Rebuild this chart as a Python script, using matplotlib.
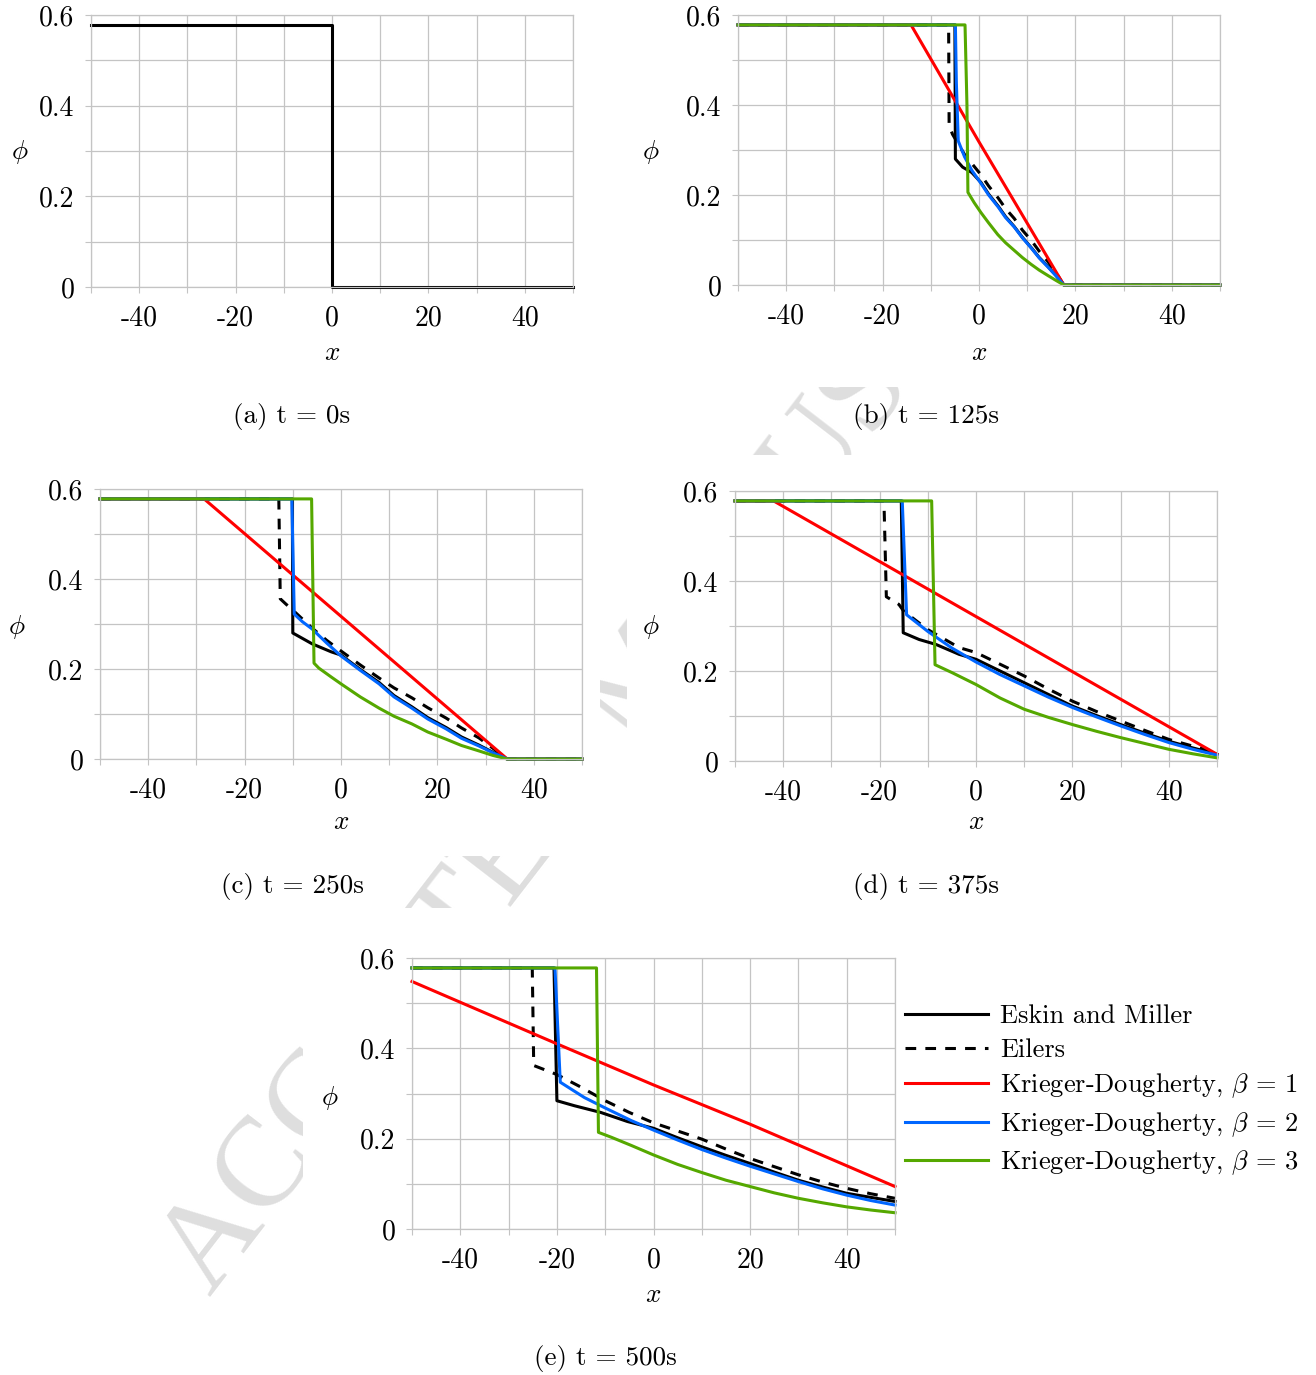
import matplotlib
matplotlib.use("Agg")
import matplotlib.pyplot as plt
from matplotlib.patches import Rectangle

plt.rcParams['font.family'] = 'cmr10'
plt.rcParams['mathtext.fontset'] = 'cm'
plt.rcParams['axes.unicode_minus'] = False

W, H = 1316, 1375

# series names and colours
labels = ['Eskin and Miller', 'Eilers', r'Krieger-Dougherty, $\beta$ = 1',
          r'Krieger-Dougherty, $\beta$ = 2', r'Krieger-Dougherty, $\beta$ = 3']
colors = ['black', 'black', '#ff0000', '#0066ff', '#55a800']
styles = ['-', '--', '-', '-', '-']

# t = 0s (initial step)
x_a = [-50, 0, 0, 50]
phi_a = [0.578, 0.578, 0.0, 0.0]

# t = 125s
x_b_eskin = [-50, -5.0, -4.9, -3.4, -1.5, 0.4, 2.0, 4.0, 5.5, 7.3, 9.0, 11.0, 12.5, 14.3, 16.0, 17.6, 50]
phi_b_eskin = [0.578, 0.578, 0.28, 0.262, 0.25, 0.228, 0.202, 0.175, 0.152, 0.13, 0.106, 0.081, 0.061, 0.041, 0.021, 0.0, 0.0]
x_b_eilers = [-50, -6.3, -6.2, -5.5, -3.0, 0.4, 2.0, 4.0, 5.5, 7.3, 9.0, 11.0, 12.5, 14.3, 16.0, 17.6, 50]
phi_b_eilers = [0.578, 0.578, 0.355, 0.335, 0.29, 0.245, 0.22, 0.193, 0.17, 0.148, 0.122, 0.097, 0.075, 0.052, 0.027, 0.0, 0.0]
x_b_kd1 = [-50, -14.1, 0.0, 17.6, 50]
phi_b_kd1 = [0.578, 0.578, 0.318, 0.0, 0.0]
x_b_kd2 = [-50, -4.9, -4.7, -4.3, -3.0, -1.5, 0.4, 2.0, 4.0, 5.5, 7.3, 9.0, 11.0, 12.5, 14.3, 16.0, 17.6, 50]
phi_b_kd2 = [0.578, 0.578, 0.45, 0.32, 0.285, 0.255, 0.226, 0.2, 0.173, 0.15, 0.129, 0.105, 0.08, 0.06, 0.04, 0.02, 0.0, 0.0]
x_b_kd3 = [-50, -2.9, -2.5, -2.3, -1.0, 0.4, 2.0, 3.9, 5.5, 7.3, 9.0, 10.8, 12.5, 14.3, 16.0, 17.6, 50]
phi_b_kd3 = [0.578, 0.578, 0.4, 0.206, 0.183, 0.161, 0.138, 0.112, 0.094, 0.077, 0.061, 0.046, 0.033, 0.021, 0.01, 0.0, 0.0]

# t = 250s
x_c_eskin = [-50, -10.1, -10.0, -6.0, -2.0, 0.0, 4.0, 7.9, 11.0, 14.7, 18.0, 21.8, 25.0, 28.6, 31.5, 34.5, 50]
phi_c_eskin = [0.578, 0.578, 0.28, 0.256, 0.238, 0.231, 0.199, 0.17, 0.141, 0.116, 0.092, 0.07, 0.049, 0.031, 0.015, 0.0, 0.0]
x_c_eilers = [-50, -12.9, -12.6, -11.4, -9.4, -6.0, -3.0, 0.0, 4.0, 7.9, 11.0, 14.7, 18.0, 21.8, 25.0, 28.6, 31.5, 34.5, 50]
phi_c_eilers = [0.578, 0.578, 0.356, 0.344, 0.325, 0.291, 0.264, 0.24, 0.209, 0.18, 0.158, 0.136, 0.114, 0.091, 0.069, 0.047, 0.024, 0.0, 0.0]
x_c_kd1 = [-50, -28.4, 34.5, 50]
phi_c_kd1 = [0.578, 0.578, 0.0, 0.0]
x_c_kd2 = [-50, -10.2, -9.7, -8.0, -6.0, -3.0, 0.0, 4.0, 7.9, 11.0, 14.7, 18.0, 21.8, 25.0, 28.6, 31.5, 34.5, 50]
phi_c_kd2 = [0.578, 0.578, 0.322, 0.305, 0.289, 0.258, 0.229, 0.197, 0.167, 0.138, 0.113, 0.089, 0.067, 0.046, 0.029, 0.014, 0.0, 0.0]
x_c_kd3 = [-50, -6.1, -5.6, -4.6, -2.0, 0.0, 4.0, 7.9, 11.0, 14.7, 18.0, 21.8, 25.0, 28.6, 31.5, 34.5, 50]
phi_c_kd3 = [0.578, 0.578, 0.213, 0.202, 0.182, 0.167, 0.138, 0.113, 0.095, 0.078, 0.06, 0.044, 0.03, 0.018, 0.008, 0.0, 0.0]

# t = 375s
x_d_eskin = [-50, -15.5, -15.1, -11.8, -8.3, -3.5, 0, 5, 10, 15, 20, 25, 30, 35, 40, 45, 50]
phi_d_eskin = [0.578, 0.578, 0.285, 0.27, 0.259, 0.237, 0.226, 0.2, 0.174, 0.148, 0.122, 0.101, 0.081, 0.062, 0.044, 0.029, 0.015]
x_d_eilers = [-50, -19.1, -18.6, -16.0, -15.0, -10.0, -3.5, 0, 5, 10, 15, 20, 25, 30, 35, 40, 45, 50]
phi_d_eilers = [0.578, 0.578, 0.365, 0.348, 0.333, 0.292, 0.252, 0.241, 0.215, 0.189, 0.16, 0.133, 0.11, 0.089, 0.068, 0.048, 0.033, 0.019]
x_d_kd1 = [-50, -42.0, 50]
phi_d_kd1 = [0.578, 0.578, 0.015]
x_d_kd2 = [-50, -15.3, -14.4, -10.0, -5.0, 0, 5, 10, 15, 20, 25, 30, 35, 40, 45, 50]
phi_d_kd2 = [0.578, 0.578, 0.325, 0.288, 0.251, 0.22, 0.192, 0.167, 0.142, 0.119, 0.098, 0.078, 0.059, 0.041, 0.026, 0.013]
x_d_kd3 = [-50, -9.2, -8.5, -4.9, 0, 5, 10, 15, 20, 25, 30, 35, 40, 45, 50]
phi_d_kd3 = [0.578, 0.578, 0.214, 0.196, 0.17, 0.14, 0.115, 0.097, 0.081, 0.066, 0.052, 0.039, 0.026, 0.016, 0.007]

# t = 500s
x_e_eskin = [-50, -20.6, -20.0, -16.4, -10.9, -5.4, 0, 5, 10, 15, 20, 25, 30, 35, 40, 45, 50]
phi_e_eskin = [0.578, 0.578, 0.284, 0.273, 0.258, 0.238, 0.223, 0.202, 0.182, 0.163, 0.145, 0.126, 0.108, 0.093, 0.079, 0.07, 0.061]
x_e_eilers = [-50, -25.1, -24.8, -20.0, -15.0, -10.0, -5.0, 0, 5, 10, 15, 20, 25, 30, 35, 40, 45, 50]
phi_e_eilers = [0.578, 0.578, 0.362, 0.342, 0.314, 0.284, 0.258, 0.235, 0.217, 0.199, 0.177, 0.156, 0.138, 0.12, 0.104, 0.09, 0.078, 0.068]
x_e_kd1 = [-50, -20.0, 0.0, 20.0, 50]
phi_e_kd1 = [0.548, 0.41, 0.319, 0.232, 0.094]
x_e_kd2 = [-50, -20.4, -19.3, -14.3, -10.2, -4.6, 0, 5, 10, 15, 20, 25, 30, 35, 40, 45, 50]
phi_e_kd2 = [0.578, 0.578, 0.325, 0.291, 0.269, 0.24, 0.219, 0.197, 0.176, 0.157, 0.139, 0.122, 0.105, 0.089, 0.075, 0.063, 0.053]
x_e_kd3 = [-50, -11.8, -11.4, -8.7, -4.6, 0, 5, 10, 15, 20, 25, 30, 35, 40, 45, 50]
phi_e_kd3 = [0.578, 0.578, 0.214, 0.203, 0.185, 0.164, 0.143, 0.125, 0.108, 0.094, 0.08, 0.068, 0.058, 0.049, 0.042, 0.036]

captions = ['(a) t = 0s', '(b) t = 125s', '(c) t = 250s', '(d) t = 375s', '(e) t = 500s']

x_ticks = list(range(-50, 51, 10))
x_ticklabels = ['', '-40', '', '-20', '', '0', '', '20', '', '40', '']
y_ticks = [0, 0.1, 0.2, 0.3, 0.4, 0.5, 0.6]
y_ticklabels = ['0', '', '0.2', '', '0.4', '', '0.6']

fig = plt.figure(figsize=(W / 100, H / 100), dpi=100)


def px_rect(left, top, right, bottom):
    return [left / W, 1 - bottom / H, (right - left) / W, (bottom - top) / H]


# watermark, hidden behind the sub-figure boxes
fig.text(648 / W, 1 - 678 / H, 'ACCEPTED MANUSCRIPT', rotation=52.4,
         rotation_mode='anchor', ha='center', va='center', fontsize=92,
         color='#dedede', family='Liberation Serif', zorder=-10)
for x0, y0, x1, y1 in [(0, 0, 600, 387), (628, 0, 1316, 387), (0, 462, 600, 856),
                       (627, 455, 1316, 856), (303, 908, 1316, 1318)]:
    fig.add_artist(Rectangle((x0 / W, 1 - y1 / H), (x1 - x0) / W, (y1 - y0) / H,
                             transform=fig.transFigure, facecolor='white',
                             edgecolor='none', zorder=-5))

panels = [
    dict(box=(91, 15, 573, 287), ylab=(-0.147, 0.496), xlab=-0.243, cap=(292, 417),
         series=[(x_a, phi_a)]),
    dict(box=(738, 15, 1220, 285), ylab=(-0.180, 0.493), xlab=-0.252, cap=(926, 417),
         series=[(x_b_eskin, phi_b_eskin), (x_b_eilers, phi_b_eilers), (x_b_kd1, phi_b_kd1),
                 (x_b_kd2, phi_b_kd2), (x_b_kd3, phi_b_kd3)]),
    dict(box=(100, 489, 582, 759), ylab=(-0.172, 0.489), xlab=-0.233, cap=(292, 886),
         series=[(x_c_eskin, phi_c_eskin), (x_c_eilers, phi_c_eilers), (x_c_kd1, phi_c_kd1),
                 (x_c_kd2, phi_c_kd2), (x_c_kd3, phi_c_kd3)]),
    dict(box=(735, 491, 1217, 761), ylab=(-0.174, 0.496), xlab=-0.226, cap=(926, 886),
         series=[(x_d_eskin, phi_d_eskin), (x_d_eilers, phi_d_eilers), (x_d_kd1, phi_d_kd1),
                 (x_d_kd2, phi_d_kd2), (x_d_kd3, phi_d_kd3)]),
    dict(box=(412, 958, 895, 1229), ylab=(-0.170, 0.483), xlab=-0.244, cap=(605, 1358),
         series=[(x_e_eskin, phi_e_eskin), (x_e_eilers, phi_e_eilers), (x_e_kd1, phi_e_kd1),
                 (x_e_kd2, phi_e_kd2), (x_e_kd3, phi_e_kd3)]),
]

fs = 19.5
grid_col = '#c4c4c4'
for i, p in enumerate(panels):
    ax = fig.add_axes(px_rect(*p['box']))
    for j, (xs, ys) in enumerate(p['series']):
        line, = ax.plot(xs, ys, color=colors[j], ls=styles[j], lw=2.2,
                        clip_on=False, label=labels[j])
        if styles[j] == '--':
            line.set_dashes((3.5, 3))
    ax.set_xlim(-50, 50)
    ax.set_ylim(0, 0.6)
    ax.set_xticks(x_ticks)
    ax.set_xticklabels(x_ticklabels)
    ax.set_yticks(y_ticks)
    ax.set_yticklabels(y_ticklabels)
    ax.grid(True, color=grid_col, lw=0.9)
    ax.set_axisbelow(True)
    ax.tick_params(direction='out', length=4, color=grid_col, labelsize=20)
    ax.tick_params(axis='x', pad=9)
    ax.tick_params(axis='y', pad=8)
    for s in ax.spines.values():
        s.set_color(grid_col)
        s.set_linewidth(0.9)
    ax.set_xlabel('$x$', fontsize=fs, va='center')
    ax.xaxis.set_label_coords(0.5, p['xlab'])
    ax.set_ylabel(r'$\phi$', fontsize=fs, rotation=0, va='center', ha='center')
    ax.yaxis.set_label_coords(*p['ylab'])
    fig.text(p['cap'][0] / W, 1 - p['cap'][1] / H, captions[i], ha='center',
             va='center', fontsize=fs)
    if i == 4:
        ax.legend(loc='center left', bbox_to_anchor=(905 / W, 1 - 1091 / H),
                  bbox_transform=fig.transFigure, frameon=False, fontsize=19,
                  handlelength=3.15, handletextpad=0.45, labelspacing=0.37,
                  borderpad=0, borderaxespad=0)

fig.savefig('out.png', dpi=100, facecolor='white')
